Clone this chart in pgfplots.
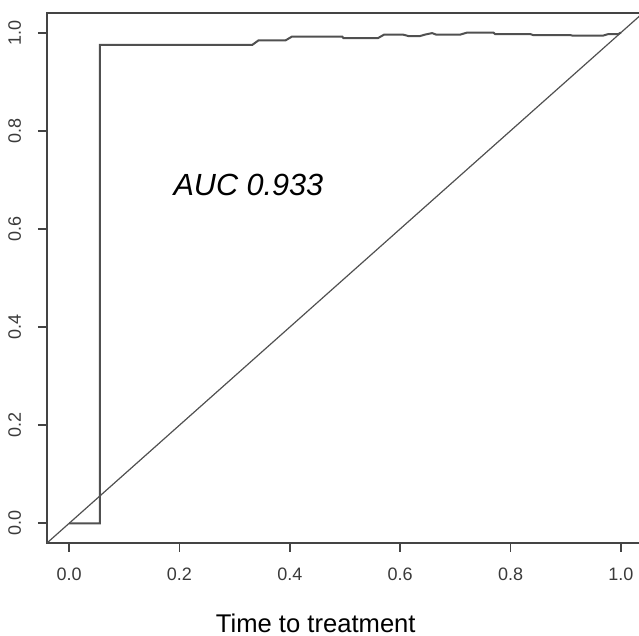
\documentclass[border=0pt]{standalone}
\usepackage{pgfplots}
\pgfplotsset{compat=1.18}
\usepackage{fontspec}
\setmainfont{Liberation Sans}
\definecolor{rline}{HTML}{505050}
\definecolor{rbox}{HTML}{444444}
\definecolor{rtext}{HTML}{3A3A3A}

\begin{document}
\begin{tikzpicture}
\begin{axis}[
    scale only axis,
    width=298pt,
    height=265pt,
    xmin=-0.04, xmax=1.04,
    ymin=-0.04, ymax=1.04,
    xtick={0,0.2,0.4,0.6,0.8,1},
    ytick={0,0.2,0.4,0.6,0.8,1},
    axis line style={draw=rbox,line width=1pt},
    tick align=outside,
    major tick length=4.5pt,
    tick style={draw=rbox,line width=0.9pt},
    xtick pos=bottom, ytick pos=left,
    tick label style={font=\fontsize{9}{11}\selectfont,text=rtext},
    xticklabel style={yshift=-4.5pt},
    yticklabel style={rotate=90,anchor=south,yshift=5pt},
    /pgf/number format/assume math mode=true,
    /pgf/number format/fixed,
    /pgf/number format/fixed zerofill,
    /pgf/number format/precision=1,
    clip=false,
]
% diagonal reference line
\addplot[rline,line width=0.6pt] coordinates {(-0.04,-0.04) (1.04,1.04)};
% ROC curve
\addplot[rline,line width=1pt] coordinates {
(0,0) (0.056,0) (0.056,0.975) (0.332,0.975) (0.343,0.984) (0.392,0.984)
(0.404,0.992) (0.495,0.992) (0.497,0.989) (0.560,0.989) (0.571,0.996)
(0.605,0.996) (0.615,0.993) (0.636,0.993) (0.645,0.996) (0.658,0.999)
(0.665,0.996) (0.709,0.996) (0.721,1.0) (0.769,1.0) (0.772,0.997)
(0.836,0.997) (0.841,0.995) (0.908,0.995) (0.912,0.994) (0.968,0.994)
(0.977,0.997) (0.995,0.997) (1,1)};
\node[font=\fontsize{15.3}{18}\selectfont\itshape,text=black] at (axis cs:0.325,0.69) {AUC 0.933};
\node[font=\fontsize{12.8}{15}\selectfont,text=black] at (axis description cs:0.451,-0.151) {Time to treatment};
\end{axis}
\pgfresetboundingbox
\useasboundingbox (-23.5pt,-46.5pt) rectangle (296pt,271.5pt);
\end{tikzpicture}
\end{document}
